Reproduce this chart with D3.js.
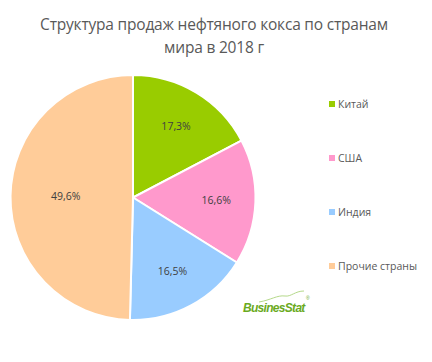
<!DOCTYPE html>
<html>
<head>
<meta charset="utf-8">
<script src="https://cdn.jsdelivr.net/npm/d3@7"></script>
<style>
body { margin: 0; background: #fff; }
</style>
</head>
<body>
<script>
// chart data
const countries = ["Китай", "США", "Индия", "Прочие страны"];
const shares = [17.3, 16.6, 16.5, 49.6];
const colors = ["#99CC00", "#FF99CC", "#99CCFF", "#FFCC99"];
const titleLines = ["Структура продаж нефтяного кокса по странам", "мира в 2018 г"];

const w = 432;
const h = 362;
const cx = 133;
const cy = 197.5;
const r = 122.5;

let svg = d3.select("body")
            .append("svg")
            .attr("width", w)
            .attr("height", h);

svg.selectAll("text.title")
    .data(titleLines)
    .enter()
    .append("text")
    .attr("class", "title")
    .attr("x", 214)
    .attr("y", (d, i) => 30 + i * 23)
    .attr("text-anchor", "middle")
    .attr("font-family", "Open Sans, sans-serif")
    .attr("font-size", 15.5)
    .attr("letter-spacing", -0.2)
    .attr("fill", "#595959")
    .text((d) => d);

let pie = d3.pie().sort(null).value((d) => d);
let arcs = pie(shares);
let arc = d3.arc().innerRadius(0).outerRadius(r);
// big slices get their label pulled in closer to the centre
let labelPos = (d) => {
    let rr = d.data > 40 ? r * 0.55 : r * 0.68;
    return d3.arc().innerRadius(rr).outerRadius(rr).centroid(d);
};

let g = svg.append("g").attr("transform", "translate(" + cx + "," + cy + ")");

g.selectAll("path")
    .data(arcs)
    .enter()
    .append("path")
    .attr("d", arc)
    .attr("fill", (d, i) => colors[i])
    .attr("stroke", "#fff")
    .attr("stroke-width", 2);

g.selectAll("text")
    .data(arcs)
    .enter()
    .append("text")
    .attr("transform", (d) => "translate(" + labelPos(d) + ")")
    .attr("text-anchor", "middle")
    .attr("dy", "0.35em")
    .attr("font-family", "Open Sans, sans-serif")
    .attr("font-size", 10.5)
    .attr("fill", "#404040")
    .text((d) => d3.format(".1f")(d.data).replace(".", ",") + "%");

// legend
let legend = svg.selectAll("g.legend")
    .data(countries)
    .enter()
    .append("g")
    .attr("class", "legend")
    .attr("transform", (d, i) => "translate(329," + (104 + i * 54) + ")");

legend.append("rect")
    .attr("x", 0)
    .attr("y", -3)
    .attr("width", 6)
    .attr("height", 6)
    .attr("fill", (d, i) => colors[i]);

legend.append("text")
    .attr("x", 9)
    .attr("dy", "0.35em")
    .attr("font-family", "Open Sans, sans-serif")
    .attr("font-size", 10.5)
    .attr("fill", "#595959")
    .text((d) => d);

// logo
let logo = svg.append("g").attr("transform", "translate(243,312)");
logo.append("path")
    .attr("d", "M16,-10 C28,-12 34,-17 42,-16 C48,-15 52,-21 61,-21")
    .attr("fill", "none")
    .attr("stroke", "#b5d98a")
    .attr("stroke-width", 1);
logo.append("text")
    .attr("font-family", "Liberation Sans, sans-serif")
    .attr("font-style", "italic")
    .attr("font-weight", "bold")
    .attr("font-size", 12)
    .attr("letter-spacing", -0.7)
    .attr("fill", "#6aaa1e")
    .text("BusinesStat");
logo.append("text")
    .attr("x", 63)
    .attr("y", -12)
    .attr("font-family", "Liberation Sans, sans-serif")
    .attr("font-size", 5)
    .attr("fill", "#6aaa1e")
    .text("®");
</script>
</body>
</html>
